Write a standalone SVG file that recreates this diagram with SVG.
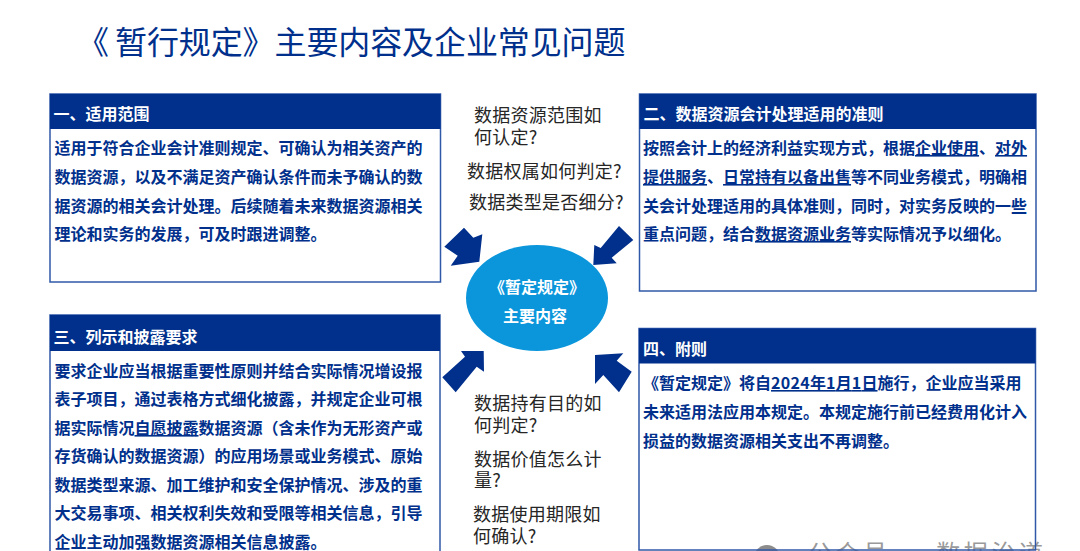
<svg xmlns="http://www.w3.org/2000/svg" width="1080" height="551" viewBox="0 0 1080 551">
<style>
text{font-family:"Noto Sans CJK SC","Noto Sans",sans-serif}
.box{fill:#fff;stroke:#2f58a8;stroke-width:1.5}
.hd{fill:#00308c}
.ht{fill:#fff;font-size:16px;font-weight:700}
.bt{fill:#00308c;font-size:16px;font-weight:700}
.q{fill:#262626;font-size:18px;letter-spacing:.25px}
.ar{fill:#00308c}
.u{text-decoration:underline}
.d{text-decoration:underline;letter-spacing:.3px}
</style>
<rect width="1080" height="551" fill="#fff"/>
<text id="title" y="54" font-size="32" fill="#00308c" letter-spacing="-.1"><tspan x="77">《</tspan><tspan x="115">暂行规定》主要内容及企业常见问题</tspan></text>
<g id="watermark">
<circle cx="767" cy="558" r="13" fill="#8c8c8c"/>
<text x="808" y="562" font-size="24" fill="#9a9a9a" textLength="235">公众号 · 数据治道</text>
</g>
<g id="node-1">
<rect class="box" x="50" y="94" width="390.5" height="188"/>
<rect class="hd" x="50" y="94" width="390.5" height="35"/>
<text class="ht" x="53.5" y="120">一、适用范围</text>
<text class="bt" x="54.5" y="154">适用于符合企业会计准则规定、可确认为相关资产的</text>
<text class="bt" x="54.5" y="183">数据资源，以及不满足资产确认条件而未予确认的数</text>
<text class="bt" x="54.5" y="212">据资源的相关会计处理。后续随着未来数据资源相关</text>
<text class="bt" x="54.5" y="240">理论和实务的发展，可及时跟进调整。</text>
</g>
<g id="node-2">
<rect class="box" x="639.5" y="94" width="396.5" height="197"/>
<rect class="hd" x="639.5" y="94" width="396.5" height="35"/>
<text class="ht" x="643.500" y="120">二、数据资源会计处理适用的准则</text>
<text class="bt" x="643" y="154">按照会计上的经济利益实现方式，根据<tspan class="u">企业使用</tspan>、<tspan class="u">对外</tspan></text>
<text class="bt" x="643" y="183"><tspan class="u">提供服务</tspan>、<tspan class="u">日常持有以备出售</tspan>等不同业务模式，明确相</text>
<text class="bt" x="643" y="212">关会计处理适用的具体准则，同时，对实务反映的一些</text>
<text class="bt" x="643" y="240">重点问题，结合<tspan class="u">数据资源业务</tspan>等实际情况予以细化。</text>
</g>
<g id="node-3">
<rect class="box" x="50" y="315" width="390" height="250"/>
<rect class="hd" x="50" y="315" width="390" height="36"/>
<text class="ht" x="53.5" y="343">三、列示和披露要求</text>
<text class="bt" x="54.5" y="377">要求企业应当根据重要性原则并结合实际情况增设报</text>
<text class="bt" x="54.5" y="405">表子项目，通过表格方式细化披露，并规定企业可根</text>
<text class="bt" x="54.5" y="434">据实际情况<tspan class="u">自愿披露</tspan>数据资源（含未作为无形资产或</text>
<text class="bt" x="54.5" y="462">存货确认的数据资源）的应用场景或业务模式、原始</text>
<text class="bt" x="54.5" y="491">数据类型来源、加工维护和安全保护情况、涉及的重</text>
<text class="bt" x="54.5" y="519">大交易事项、相关权利失效和受限等相关信息，引导</text>
<text class="bt" x="54.5" y="548">企业主动加强数据资源相关信息披露。</text>
</g>
<g id="node-4">
<rect class="box" x="639" y="328.5" width="396.5" height="221.5" style="fill:none"/>
<rect class="hd" x="639" y="328.5" width="396.5" height="35"/>
<text class="ht" x="643" y="355">四、附则</text>
<text class="bt" x="643" y="389">《暂定规定》将自<tspan class="d">2024</tspan><tspan class="u">年</tspan><tspan class="d">1</tspan><tspan class="u">月</tspan><tspan class="d">1</tspan><tspan class="u">日</tspan>施行，企业应当采用</text>
<text class="bt" x="643" y="418">未来适用法应用本规定。本规定施行前已经费用化计入</text>
<text class="bt" x="643" y="447">损益的数据资源相关支出不再调整。</text>
</g>
<g id="node-center">
<ellipse cx="537" cy="298" rx="71" ry="53" fill="#0b96dc"/>
<text x="537" y="293" font-size="16" font-weight="700" fill="#fff" text-anchor="middle">《暂定规定》</text>
<text x="535" y="322" font-size="16" font-weight="700" fill="#fff" text-anchor="middle">主要内容</text>
</g>
<g id="questions">
<text class="q" x="474" y="122">数据资源范围如</text>
<text class="q" x="474" y="144">何认定?</text>
<text class="q" x="467" y="178">数据权属如何判定?</text>
<text class="q" x="469" y="209">数据类型是否细分?</text>
<text class="q" x="474" y="410">数据持有目的如</text>
<text class="q" x="474" y="432">何判定?</text>
<text class="q" x="474" y="466">数据价值怎么计</text>
<text class="q" x="474" y="487">量?</text>
<text class="q" x="473" y="521">数据使用期限如</text>
<text class="q" x="473" y="543">何确认?</text>
</g>
<g id="connectors">
<polygon class="ar" points="444.3,246.7 464,227.7 473.3,237.7 482.3,234.3 479.3,261.7 450.7,265.7 457.7,255.7"/>
<polygon class="ar" points="593.3,265 594.3,245 600.7,248 619,226 633.3,240 611.7,257.7 616.7,263.3"/>
<polygon class="ar" points="483.7,351 484,371.7 476.7,366.7 455.7,392.3 442.3,377.3 465,356.7 461,351"/>
<polygon class="ar" points="595,355 623.3,353.3 616.7,360.7 631.7,371.7 619,392.3 603.3,375 595,384"/>
</g>
</svg>
